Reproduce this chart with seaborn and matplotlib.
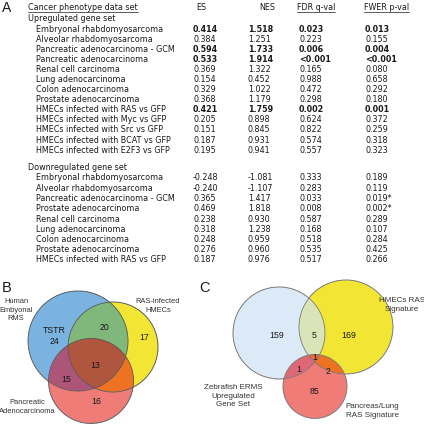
import numpy as np
import matplotlib
matplotlib.use("Agg")
import matplotlib.pyplot as plt
import seaborn as sns
from matplotlib.patches import Circle

# ---- panel A: GSEA table ----
up_sets = ["Embryonal rhabdomyosarcoma", "Alveolar rhabdomyosarcoma",
           "Pancreatic adenocarcinoma - GCM", "Pancreatic adenocarcinoma",
           "Renal cell carcinoma", "Lung adenocarcinoma", "Colon adenocarcinoma",
           "Prostate adenocarcinoma", "HMECs infected with RAS vs GFP",
           "HMECs infected with Myc vs GFP", "HMECs infected with Src vs GFP",
           "HMECs infected with BCAT vs GFP", "HMECs infected with E2F3 vs GFP"]
up_es = ["0.414", "0.384", "0.594", "0.533", "0.369", "0.154", "0.329",
         "0.368", "0.421", "0.205", "0.151", "0.187", "0.195"]
up_nes = ["1.518", "1.251", "1.733", "1.914", "1.322", "0.452", "1.022",
          "1.179", "1.759", "0.898", "0.845", "0.931", "0.941"]
up_fdr = ["0.023", "0.223", "0.006", "<0.001", "0.165", "0.988", "0.472",
          "0.298", "0.002", "0.624", "0.822", "0.574", "0.557"]
up_fwer = ["0.013", "0.155", "0.004", "<0.001", "0.080", "0.658", "0.292",
           "0.180", "0.001", "0.372", "0.259", "0.318", "0.323"]
up_bold = [True, False, True, True, False, False, False, False, True,
           False, False, False, False]

down_sets = ["Embryonal rhabdomyosarcoma", "Alveolar rhabdomyosarcoma",
             "Pancreatic adenocarcinoma - GCM", "Prostate adenocarcinoma",
             "Renal cell carcinoma", "Lung adenocarcinoma", "Colon adenocarcinoma",
             "Prostate adenocarcinoma", "HMECs infected with RAS vs GFP"]
down_es = ["-0.248", "-0.240", "0.365", "0.469", "0.238", "0.318", "0.248",
           "0.276", "0.187"]
down_nes = ["-1.081", "-1.107", "1.417", "1.818", "0.930", "1.238", "0.959",
            "0.960", "0.976"]
down_fdr = ["0.333", "0.283", "0.033", "0.008", "0.587", "0.168", "0.518",
            "0.535", "0.517"]
down_fwer = ["0.189", "0.119", "0.019*", "0.002*", "0.289", "0.107", "0.284",
             "0.425", "0.266"]

# ---- panels B and C: venn counts ----
b_sets = ["Human\nEmbyonal\nRMS", "RAS-infected\nHMECs", "Pancreatic\nAdenocarcinoma"]
b_regions = ["100", "110", "010", "111", "101", "001"]
b_counts = ["TSTR\n24", "20", "17", "13", "15", "16"]

c_sets = ["Zebrafish ERMS\nUpregulated\nGene Set", "HMECs RAS\nSignature",
          "Pancreas/Lung\nRAS Signature"]
c_regions = ["100", "110", "010", "111", "101", "011", "001"]
c_counts = ["159", "5", "169", "1", "1", "2", "85"]

# layout (figure pixel coordinates, y down)
b_circles = [(78, 341, 50), (113, 347, 45), (91, 381, 42.5)]
c_circles = [(279, 333, 46), (346, 327, 47), (315, 386.5, 32)]
b_count_xy = {"100": (54, 336), "110": (104, 327), "010": (144, 338),
              "111": (95, 365), "101": (66, 379), "001": (96, 401)}
c_count_xy = {"100": (277, 336), "110": (314, 336), "010": (349, 336),
              "111": (315, 358), "101": (299, 370), "011": (328, 371),
              "001": (314, 392)}
b_label_xy = [(16, 310, "center"), (158, 306, "center"), (27, 407, "center")]
c_label_xy = [(233, 396, "center"), (402, 305, "center"), (372, 411, "center")]

b_colors = {"100": "#7ab3e0", "010": "#f3e535", "001": "#f07c78",
            "110": "#80b87c", "101": "#ad5579", "011": "#ee7322",
            "111": "#b0563f"}
c_colors = {"100": "#dcebf8", "010": "#f3e535", "001": "#f07c78",
            "110": "#d9e5b9", "101": "#de6878", "011": "#ee7322",
            "111": "#e6683a"}

sns.set_theme(style="white")
plt.rcParams["font.family"] = ["DejaVu Sans"]

fig = plt.figure(figsize=(4.24, 4.24), dpi=100)
ax = fig.add_axes([0, 0, 1, 1])
ax.set_xlim(0, 424)
ax.set_ylim(424, 0)
ax.axis("off")

fs = 5.8
ink = "#1a1a1a"
col_x = [193, 248, 299, 365]


def underline(t, y):
    fig.canvas.draw()
    bb = t.get_window_extent().transformed(ax.transData.inverted())
    ax.plot([bb.x0, bb.x1], [y + 4.6, y + 4.6], color=ink, lw=0.5)


ax.text(2, 8, "A", fontsize=10, family="Liberation Sans", va="center", color=ink)
t = ax.text(28, 7, "Cancer phenotype data set", fontsize=fs, va="center", color=ink)
underline(t, 7)
ax.text(201, 7, "ES", fontsize=fs, va="center", ha="center", color=ink)
ax.text(267, 7, "NES", fontsize=fs, va="center", ha="center", color=ink)
t = ax.text(297, 7, "FDR q-val", fontsize=fs, va="center", color=ink)
underline(t, 7)
t = ax.text(364, 7, "FWER p-val", fontsize=fs, va="center", color=ink)
underline(t, 7)


def table_block(title, y0, step, names, cols, bold=None):
    ax.text(28, y0 - 10.5, title, fontsize=fs, va="center", color=ink)
    for i, name in enumerate(names):
        y = y0 + i * step
        w = "bold" if (bold is not None and bold[i]) else "normal"
        ax.text(36, y, name, fontsize=fs, va="center", color=ink)
        for x, vals in zip(col_x, cols):
            ax.text(x, y, vals[i], fontsize=fs, va="center", color=ink,
                    fontweight=w)


table_block("Upregulated gene set", 29, 10.1, up_sets,
            [up_es, up_nes, up_fdr, up_fwer], up_bold)
table_block("Downregulated gene set", 178, 10.25, down_sets,
            [down_es, down_nes, down_fdr, down_fwer])

# ---- venn fills ----
W = 848
gx, gy = np.meshgrid(np.linspace(0, 424, W), np.linspace(0, 424, W))
img = np.zeros((W, W, 4))
for circles, colors in [(b_circles, b_colors), (c_circles, c_colors)]:
    inside = [((gx - cx) ** 2 + (gy - cy) ** 2) < r ** 2 for cx, cy, r in circles]
    for code, hexc in colors.items():
        m = np.ones_like(gx, dtype=bool)
        for bit, ins in zip(code, inside):
            m &= ins if bit == "1" else ~ins
        img[m] = matplotlib.colors.to_rgba(hexc)
ax.imshow(img, extent=(0, 424, 424, 0), interpolation="antialiased", zorder=1)
ax.set_xlim(0, 424)
ax.set_ylim(424, 0)

for cx, cy, r in b_circles:
    ax.add_patch(Circle((cx, cy), r, fill=False, ec="#5a5a5a", lw=0.6, zorder=2))
for cx, cy, r in c_circles:
    ax.add_patch(Circle((cx, cy), r, fill=False, ec="#7a7a7a", lw=0.6, zorder=2))

vf = "Liberation Sans"
ax.text(7, 288, "B", fontsize=10.5, family=vf, ha="center", va="center", color=ink)
ax.text(205, 288, "C", fontsize=10.5, family=vf, ha="center", va="center", color=ink)

for reg, lab in zip(b_regions, b_counts):
    x, y = b_count_xy[reg]
    ax.text(x, y, lab, fontsize=6.3, family=vf, ha="center", va="center",
            color=ink, linespacing=1.3, zorder=3)
for reg, lab in zip(c_regions, c_counts):
    x, y = c_count_xy[reg]
    ax.text(x, y, lab, fontsize=6.3, family=vf, ha="center", va="center",
            color=ink, zorder=3)
for (x, y, ha), lab in zip(b_label_xy, b_sets):
    ax.text(x, y, lab, fontsize=5.4, family=vf, ha=ha, va="center",
            color="#333333", linespacing=1.3, zorder=3)
for (x, y, ha), lab in zip(c_label_xy, c_sets):
    ax.text(x, y, lab, fontsize=5.8, family=vf, ha=ha, va="center",
            color="#333333", linespacing=1.25, zorder=3)

fig.savefig("out.png", dpi=100)
